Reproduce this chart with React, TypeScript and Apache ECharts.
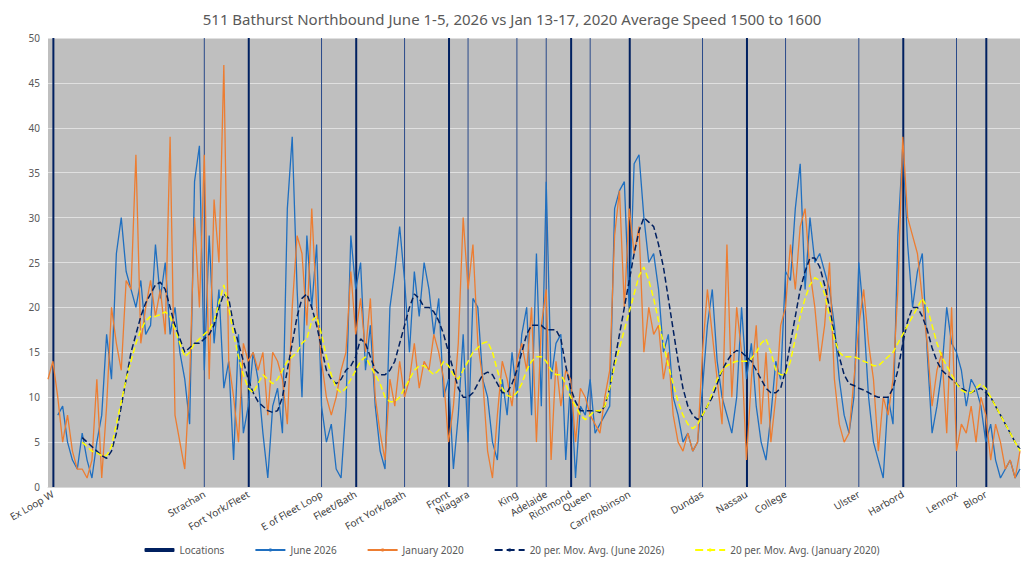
import React, { useEffect, useRef } from "react";
import * as echarts from "echarts";

const N = 200;
const locationNames = ["Ex Loop W","Strachan","Fort York/Fleet","E of Fleet Loop","Fleet/Bath","Fort York/Bath","Front","Niagara","King","Adelaide","Richmond","Queen","Carr/Robinson","Dundas","Nassau","College","Ulster","Harbord","Lennox","Bloor"];
const locationIdx = [1,32,41,56,63,73,82,86,96,102,107,111,119,134,143,151,166,175,186,192];
const locationMajor = [1,0,1,0,1,0,1,0,0,0,1,0,1,0,1,0,0,1,0,1];

const june2026 = [null,null,8,9,5,3,2,6,3,1,5,8,17,12,26,30,24,22,20,23,17,18,27,21,25,17,20,15,12,7,34,38,13,28,16,22,11,14,3,17,6,9,15,12,6,1,9,11,6,31,39,22,10,28,20,27,9,5,7,2,1,9,28,22,25,13,18,9,4,2,20,24,29,23,15,24,19,25,22,17,21,10,12,2,8,17,5,21,20,12,10,5,3,12,8,15,10,17,20,8,26,9,34,12,16,17,3,12,1,9,8,12,6,7,8,9,31,33,34,20,36,37,30,25,26,22,15,17,10,8,5,6,4,5,11,18,22,14,10,8,6,10,20,12,16,9,5,3,8,14,12,24,23,31,36,22,30,25,26,24,22,18,12,8,6,10,25,19,10,5,3,1,10,7,28,38,27,20,24,26,15,6,9,13,20,16,15,13,9,12,11,9,5,7,3,1,2,3,1,2];
const january2020 = [12,14,10,5,8,4,2,2,1,3,12,1,9,20,16,13,23,22,37,16,20,23,19,22,17,39,8,5,2,12,30,20,37,12,32,25,47,14,10,5,16,14,15,13,15,8,15,14,12,7,20,28,26,18,31,20,14,10,8,10,13,15,24,17,21,15,21,10,6,3,12,9,14,10,12,16,11,14,13,17,15,12,5,9,16,30,22,27,16,12,4,1,8,14,12,9,14,16,13,20,5,18,22,3,14,9,13,12,5,11,10,8,7,6,10,13,28,33,20,31,26,29,15,20,17,18,12,15,8,5,4,6,4,5,15,22,17,12,7,27,10,20,15,3,12,18,7,15,5,10,18,20,27,22,29,31,24,20,14,18,25,12,7,5,6,12,18,22,16,12,4,10,8,12,22,39,30,28,26,21,16,9,13,15,6,20,4,7,6,9,5,10,8,3,7,5,2,3,1,4];
const maJune = [null,null,null,null,null,null,null,5.5,5,4.5,4,3.5,3.2,4,6,9,12,15,17,19,20.5,21.5,22.5,22.8,22,20,18,16.5,15,15.5,16,16,16.5,17,18,20,21.5,21,18,16,14,12,10.5,9.5,9,8.5,8.3,8.5,10,13,16,19,21,21.5,20,18,15.5,13,12,11.5,12,13,13.5,14.5,16.5,16,14.5,13,12.5,12.5,13,14,16,18,20,21.5,21,20,20,19.5,18.5,17,15,13,11,10,10,10.5,11.5,12.5,12.8,12.5,11.5,10.5,10.5,11.5,13,15,17,18,18,18,17.5,17.5,17.5,16.5,13.5,11,9.5,8.5,8.5,8.5,8.5,8.3,9,11,14,17,20,23,26,28.5,30,29.5,29,27,24.5,21,17.5,14,11,9,8,7.5,8,9,10,11.5,13,14,14.8,15.2,15,14.5,14,13,12,11,10.5,10.5,11,13,16,19,22,24,25.5,25.5,24.5,22.5,20,17,14.5,12.5,11.5,11.3,11,10.8,10.5,10.2,10,10,10,11,13,16,18.5,20,20,19,17.5,15.5,14,13,12.5,12,11.5,11,10.7,10.5,10.8,11,10.5,10,9,8,7,6,5,4.2];
const maJanuary = [null,null,null,null,null,null,null,5,4.5,4,3.8,3.5,3.5,4.5,7,9.5,12,14,16,17.5,18.5,19,19,19.2,19.5,19,17.5,16,14.5,15,16,16.5,17,17.5,18.5,20.5,22.5,20,17,14.5,12.5,11,10.5,11.5,12.5,12,11.5,12,13,14,14.5,15,16,16.5,18.5,19,17,14.5,12.5,11,10.5,11,12,13,14,14.5,13.5,12.5,11.5,10,9.5,9.5,10,11,12,13,13.5,13.5,13,12.5,13,14,13.5,12.5,12,13,14,15,15.5,16,16.2,15,13,11,10.2,10,10.5,11.5,13,14,14.5,14.5,14,13,12.5,12.5,11.5,10,9,8,7.5,8,8.5,8.5,9,11,13.5,15.5,17.5,19.5,21.5,23.5,24.5,23,21,18.5,16,13.5,11.5,9.5,8,7,6.5,7,8,9,10.5,12,13,13.5,13.8,14,14,14,14.3,15,16,16.5,15,13,12.5,12.5,14,16.5,19,21,22.5,23.3,23,21.5,19,16.5,15,14.5,14.5,14.5,14.3,14,13.8,13.5,13.5,14,14.5,15,16,17,18,19,20,21,20,18,16,14.5,13.5,12.5,11.5,10.8,10.5,10.5,11,11.5,11,10,9,8,7,6,5,4];

export default function App() {
  const ref = useRef<HTMLDivElement>(null);
  useEffect(() => {
    const chart = echarts.init(ref.current!, null, { renderer: "svg" });
    const cats = Array.from({ length: N }, (_, i) => {
      const k = locationIdx.indexOf(i);
      return k >= 0 ? locationNames[k] : "";
    });
    const bars = (major: number) => Array.from({ length: N }, (_, i) => {
      const k = locationIdx.indexOf(i);
      return k >= 0 && locationMajor[k] === major ? 50 : null;
    });
    const font = "Noto Sans";
    chart.setOption({
      animation: false,
      backgroundColor: "#ffffff",
      title: {
        text: "511 Bathurst Northbound June 1-5, 2026 vs Jan 13-17, 2020 Average Speed 1500 to 1600",
        left: "center", top: 6,
        textStyle: { fontFamily: font, fontWeight: "normal", fontSize: 15, color: "#595959" },
      },
      grid: { left: 48, right: 4, top: 38, bottom: 77, show: true, backgroundColor: "#bfbfbf", borderWidth: 0 },
      legend: {
        bottom: 4, itemGap: 30, itemWidth: 30, itemHeight: 4,
        textStyle: { fontFamily: font, fontSize: 10, color: "#595959" },
        data: ["Locations", "June 2026", "January 2020", "20 per. Mov. Avg. (June 2026)", "20 per. Mov. Avg. (January 2020)"],
      },
      xAxis: {
        type: "category", data: cats, boundaryGap: false,
        axisLine: { lineStyle: { color: "#d9d9d9" } }, axisTick: { show: false },
        axisLabel: { interval: 0, rotate: 30, fontFamily: font, fontSize: 10, color: "#404040", margin: 6 },
      },
      yAxis: {
        type: "value", min: 0, max: 50, interval: 5,
        axisLabel: { fontFamily: font, fontSize: 10, color: "#595959" },
        splitLine: { lineStyle: { color: "#e0e0e0", width: 1 } },
      },
      series: [
        { name: "Locations", type: "bar", data: bars(1), barWidth: 2, itemStyle: { color: "#002060" } },
        { name: "LocationsMinor", type: "bar", data: bars(0), barWidth: 1, barGap: "-100%", itemStyle: { color: "#2a4a8a" } },
        { name: "June 2026", type: "line", data: june2026, symbol: "none", lineStyle: { color: "#1f6fc0", width: 1.3 }, itemStyle: { color: "#1f6fc0" } },
        { name: "January 2020", type: "line", data: january2020, symbol: "none", lineStyle: { color: "#ed7d31", width: 1.3 }, itemStyle: { color: "#ed7d31" } },
        { name: "20 per. Mov. Avg. (June 2026)", type: "line", data: maJune, symbol: "none", lineStyle: { color: "#002060", width: 1.5, type: "dashed" }, itemStyle: { color: "#002060" } },
        { name: "20 per. Mov. Avg. (January 2020)", type: "line", data: maJanuary, symbol: "none", lineStyle: { color: "#ffff00", width: 1.5, type: "dashed" }, itemStyle: { color: "#ffff00" } },
      ],
    });
    return () => chart.dispose();
  }, []);
  return <div ref={ref} style={{ position: "fixed", left: 0, top: 0, width: 1024, height: 564 }} />;
}
